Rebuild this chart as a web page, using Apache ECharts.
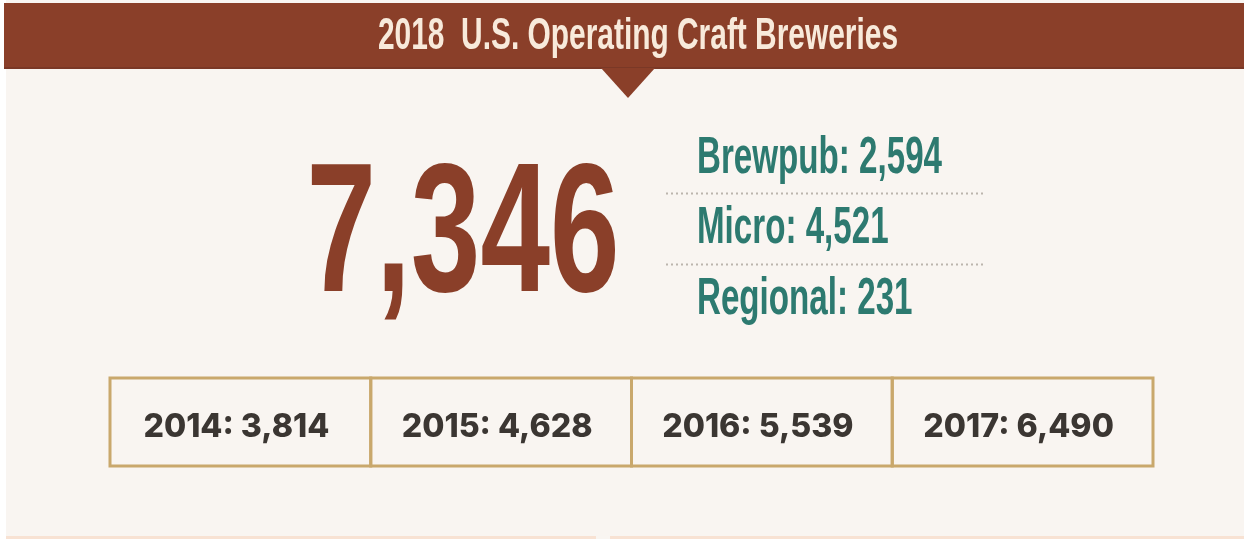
<!DOCTYPE html>
<html>
<head>
<meta charset="utf-8">
<script src="https://cdn.jsdelivr.net/npm/echarts@6/dist/echarts.min.js"></script>
<style>
  html, body { margin: 0; padding: 0; background: #ffffff; }
  #chart { width: 1244px; height: 539px; }
</style>
</head>
<body>
<div id="chart"></div>
<script>
// Craft brewery counts
const titleText = '2018  U.S. Operating Craft Breweries';
const totalBreweries = 7346;
const typeNames = ['Brewpub', 'Micro', 'Regional'];
const typeCounts = [2594, 4521, 231];
const years = ['2014', '2015', '2016', '2017'];
const yearCounts = [3814, 4628, 5539, 6490];

const fmt = n => n.toLocaleString('en-US');

const BROWN = '#8a3f29';
const CREAM = '#f8eadb';
const TEAL = '#2d7a70';
const GOLD = '#c9a86c';
const INK = '#3b3632';
const PANEL = '#f9f5f1';
const DOTS = '#bcb5ad';

const SANS = '"Liberation Sans", Arial, sans-serif';
const GEO = 'Inter, "Open Sans", sans-serif';

// horizontal squeeze so the bold sans reads like a condensed display face
const measureCtx = document.createElement('canvas').getContext('2d');
function squeeze(text, font, targetWidth) {
  measureCtx.font = font;
  return targetWidth / measureCtx.measureText(text).width;
}

const titleFont = 'bold 44px ' + SANS;
const bigFont = 'bold 184px ' + SANS;
const rowFont = 'bold 52px ' + SANS;
const boxFont = '800 33px ' + GEO;

const titleScale = squeeze(titleText, titleFont, 520);
const bigScale = squeeze(fmt(totalBreweries), bigFont, 313);
const rowScale = squeeze(typeNames[0] + ': ' + fmt(typeCounts[0]), rowFont, 245);
const boxScale = Math.min(1, squeeze(years[0] + ': ' + fmt(yearCounts[0]), boxFont, 186));

const chart = echarts.init(document.getElementById('chart'), null, { renderer: 'canvas' });

chart.setOption({
  animation: false,
  backgroundColor: '#ffffff',
  graphic: [
    { type: 'rect', z: -10, shape: { x: 6, y: 0, width: 1238, height: 539 }, style: { fill: PANEL } },
    { type: 'rect', z: -9, shape: { x: 6, y: 536, width: 590, height: 3 }, style: { fill: '#f8e2d3' } },
    { type: 'rect', z: -9, shape: { x: 610, y: 536, width: 634, height: 3 }, style: { fill: '#f8e2d3' } },
    { type: 'rect', z: -8, shape: { x: 4, y: 3, width: 1240, height: 65 }, style: { fill: BROWN } },
    { type: 'rect', z: -8, shape: { x: 4, y: 67, width: 1240, height: 2 }, style: { fill: '#7a3826' } },
    { type: 'polygon', z: -8, shape: { points: [[601, 68], [655, 68], [628, 98]] }, style: { fill: BROWN } },
    {
      type: 'text', x: 638, y: 37, scaleX: titleScale,
      style: { text: titleText, fill: CREAM, font: titleFont, align: 'center', verticalAlign: 'middle' }
    },
    {
      type: 'text', x: 463, y: 240, scaleX: bigScale,
      style: { text: fmt(totalBreweries), fill: BROWN, font: bigFont, align: 'center', verticalAlign: 'middle' }
    }
  ],
  grid: [
    { left: 697, top: 121, width: 290, height: 211 },
    { left: 110, top: 378, width: 1043, height: 88 }
  ],
  xAxis: [
    { gridIndex: 0, type: 'value', min: 0, max: 1, show: false },
    { gridIndex: 1, type: 'category', data: years, show: false }
  ],
  yAxis: [
    { gridIndex: 0, type: 'category', data: typeNames, inverse: true, show: false },
    { gridIndex: 1, type: 'value', min: 0, max: 1, show: false }
  ],
  series: [
    {
      // brewery type breakdown, one row per category with dotted dividers
      type: 'custom',
      xAxisIndex: 0, yAxisIndex: 0,
      clip: false,
      data: typeNames.map((name, i) => [0, name, typeCounts[i]]),
      renderItem: function (params, api) {
        const idx = api.value(1);
        const pt = api.coord([0, idx]);
        const bandH = api.size([0, 1])[1];
        const children = [{
          type: 'text', x: pt[0], y: pt[1] + 2.5, scaleX: rowScale,
          style: {
            text: typeNames[idx] + ': ' + fmt(api.value(2)),
            fill: TEAL, font: rowFont, align: 'left', verticalAlign: 'middle'
          }
        }];
        if (idx > 0) {
          const ly = Math.round(pt[1] - bandH / 2 + 2) + 0.5;
          children.push({
            type: 'line',
            shape: { x1: pt[0] - 31, y1: ly, x2: pt[0] + 286, y2: ly },
            style: { stroke: DOTS, lineWidth: 2, lineDash: [2, 3] }
          });
        }
        return { type: 'group', children: children };
      }
    },
    {
      // yearly totals in a row of framed cells
      type: 'custom',
      xAxisIndex: 1, yAxisIndex: 1,
      clip: false,
      data: years.map((y, i) => [y, 1, yearCounts[i]]),
      renderItem: function (params, api) {
        const idx = api.value(0);
        const bottom = api.coord([idx, 0]);
        const top = api.coord([idx, 1]);
        const bw = api.size([1, 0])[0];
        return {
          type: 'group',
          children: [
            {
              type: 'rect',
              shape: { x: bottom[0] - bw / 2, y: top[1], width: bw, height: bottom[1] - top[1] },
              style: { fill: 'none', stroke: GOLD, lineWidth: 3 }
            },
            {
              type: 'text', x: bottom[0] - 4, y: (top[1] + bottom[1]) / 2 + 5, scaleX: boxScale,
              style: {
                text: years[idx] + ': ' + fmt(api.value(2)),
                fill: INK, font: boxFont, align: 'center', verticalAlign: 'middle'
              }
            }
          ]
        };
      }
    }
  ]
});
</script>
</body>
</html>
